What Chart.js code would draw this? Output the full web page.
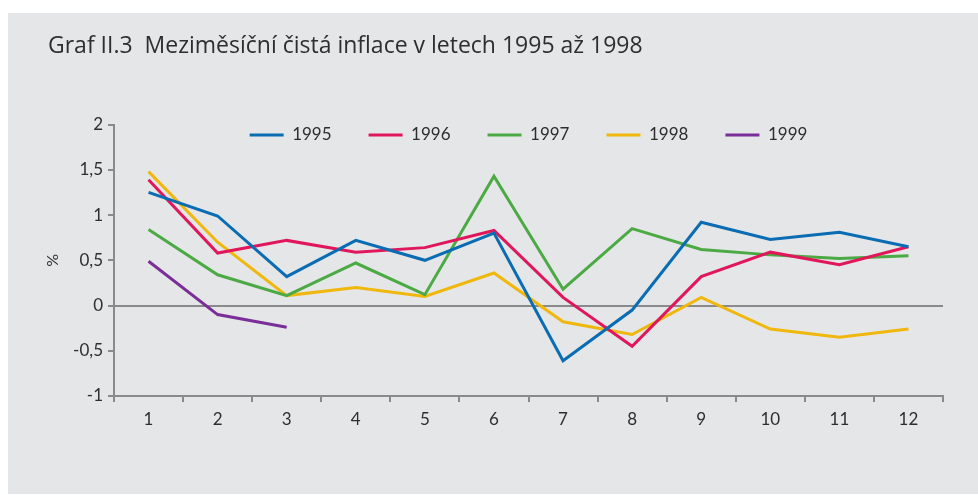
<!DOCTYPE html>
<html lang="cs">
<head>
<meta charset="utf-8">
<script src="https://cdn.jsdelivr.net/npm/chart.js@4/dist/chart.umd.min.js"></script>
<style>
  html, body { margin: 0; padding: 0; background: #ffffff; }
  #panel { position: absolute; left: 8px; top: 13px; width: 970px; height: 481px; background: #e5e6e8; }
  canvas { display: block; }
</style>
</head>
<body>
<div id="panel"><canvas id="c" width="970" height="481"></canvas></div>
<script>
// ---- data ----
const months = ['1','2','3','4','5','6','7','8','9','10','11','12'];
const seriesNames = ['1995','1996','1997','1998','1999'];
const y1995 = [1.25, 0.99, 0.32, 0.72, 0.50, 0.80, -0.61, -0.05, 0.92, 0.73, 0.81, 0.65];
const y1996 = [1.39, 0.58, 0.72, 0.59, 0.64, 0.83, 0.09, -0.45, 0.32, 0.59, 0.45, 0.65];
const y1997 = [0.84, 0.34, 0.11, 0.47, 0.12, 1.43, 0.18, 0.85, 0.62, 0.56, 0.52, 0.55];
const y1998 = [1.48, 0.70, 0.11, 0.20, 0.10, 0.36, -0.18, -0.32, 0.09, -0.26, -0.35, -0.26];
const y1999 = [0.49, -0.10, -0.24];
const yTicks = [-1, -0.5, 0, 0.5, 1, 1.5, 2];
const titleText = 'Graf II.3  Meziměsíční čistá inflace v letech 1995 až 1998';
const yTitle = '%';

// ---- styles ----
const colors = ['#0a6cb2', '#e0175a', '#4caa44', '#f0b70c', '#7a2f98'];
const axisGray = '#8a8a8a';
const textColor = '#2e2e2e';
const FONT = "Lato, 'Noto Sans', sans-serif";
const TITLE_FONT = "'Open Sans', Lato, sans-serif";
const legendFontSize = 17;
const legendPad = 37;
const legendCenterY = 122;

const seriesValues = [y1995, y1996, y1997, y1998, y1999];
const datasets = seriesValues.map((vals, i) => ({
  label: seriesNames[i],
  data: vals,
  borderColor: colors[i],
  backgroundColor: colors[i],
  borderWidth: 3,
  pointRadius: 0,
  pointHoverRadius: 0,
  tension: 0,
  fill: false
}));

const legendShift = {
  id: 'legendShift',
  afterLayout(chart) {
    const lg = chart.legend;
    if (!lg) return;
    const cur = lg.top + legendPad + legendFontSize / 2;
    const dy = legendCenterY - cur;
    lg.top += dy;
    lg.bottom += dy;
  }
};

new Chart(document.getElementById('c'), {
  type: 'line',
  data: { labels: months, datasets },
  plugins: [legendShift],
  options: {
    responsive: false,
    animation: false,
    devicePixelRatio: 1,
    layout: { padding: { left: 40, right: 35, top: 0, bottom: 0 } },
    plugins: {
      tooltip: { enabled: false },
      title: {
        display: true,
        text: titleText,
        align: 'start',
        color: textColor,
        font: { family: TITLE_FONT, size: 23, weight: 'normal', lineHeight: 1.2 },
        padding: { top: 20, bottom: 0 }
      },
      legend: {
        display: true,
        position: 'top',
        fullSize: false,
        align: 'center',
        labels: {
          usePointStyle: true,
          pointStyle: 'line',
          pointStyleWidth: 34,
          boxHeight: 3,
          padding: legendPad,
          color: textColor,
          font: { family: FONT, size: legendFontSize }
        }
      }
    },
    scales: {
      x: {
        type: 'category',
        offset: true,
        afterFit: (s) => { s.height = 98; },
        border: { display: true, color: axisGray, width: 2 },
        grid: {
          offset: true,
          drawOnChartArea: false,
          drawTicks: true,
          tickLength: 6,
          tickColor: axisGray,
          tickWidth: 2,
          color: axisGray,
          lineWidth: 2
        },
        ticks: {
          color: textColor,
          padding: 7,
          maxRotation: 0,
          font: { family: FONT, size: 17 }
        }
      },
      y: {
        min: -1,
        max: 2,
        afterFit: (s) => { s.width = 66; },
        afterBuildTicks: (s) => { s.ticks = yTicks.map(v => ({ value: v })); },
        border: { display: true, color: axisGray, width: 2 },
        grid: {
          drawOnChartArea: true,
          drawTicks: true,
          tickLength: 6,
          tickColor: axisGray,
          tickWidth: 2,
          lineWidth: 2,
          color: (ctx) => (ctx.tick && ctx.tick.value === 0) ? axisGray : 'rgba(0,0,0,0)'
        },
        ticks: {
          color: textColor,
          padding: 5,
          font: { family: FONT, size: 17 },
          callback: (v) => String(v).replace('.', ',')
        },
        title: {
          display: true,
          text: yTitle,
          color: textColor,
          padding: { top: -5, bottom: 0 },
          font: { family: FONT, size: 16 }
        }
      }
    }
  }
});
</script>
</body>
</html>
